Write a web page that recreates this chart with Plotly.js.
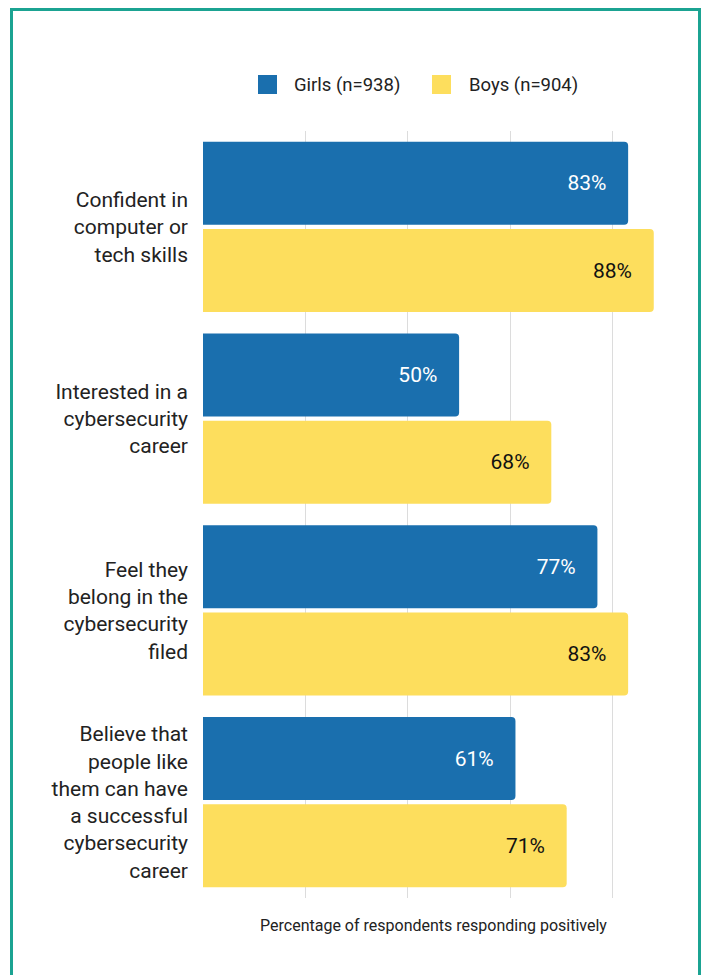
<!DOCTYPE html>
<html>
<head>
<meta charset="utf-8">
<script src="https://cdn.plot.ly/plotly-3.0.1.min.js"></script>
<style>
  html, body { margin: 0; padding: 0; background: #fff; }
  #wrap { position: relative; width: 702px; height: 975px; overflow: hidden; }
  #chart { width: 702px; height: 975px; }
  #frame { position: absolute; left: 10px; top: 8px; width: 685px; height: 990px;
           border: 3px solid #1ba392; border-bottom: none; pointer-events: none; }
</style>
</head>
<body>
<div id="wrap">
  <div id="chart"></div>
  <div id="frame"></div>
</div>
<script>
const categories = [
  "Confident in<br>computer or<br>tech skills",
  "Interested in a<br>cybersecurity<br>career",
  "Feel they<br>belong in the<br>cybersecurity<br>filed",
  "Believe that<br>people like<br>them can have<br>a successful<br>cybersecurity<br>career"
];
const seriesNames = ["Girls (n=938)", "Boys (n=904)"];
const girls = [83, 50, 77, 61];
const boys = [88, 68, 83, 71];
const colors = ["#1a6fae", "#fdde5d"];
const textColors = ["#ffffff", "#111111"];
const axisTitle = "Percentage of respondents responding positively";

const W = 702, H = 975;
const M = { l: 203, r: 38, t: 131, b: 77 };
const pw = W - M.l - M.r, ph = H - M.t - M.b;
const px = x => (x - M.l) / pw;
const py = y => 1 + (M.t - y) / ph;

const pad = "\u00a0\u00a0\u00a0\u200a";
function mk(vals, i) {
  return {
    type: "bar", orientation: "h", name: seriesNames[i],
    x: vals, y: categories,
    marker: { color: colors[i], cornerradius: 4 },
    text: vals.map(v => v + "%" + pad),
    textposition: "inside", insidetextanchor: "end",
    textfont: { family: "Roboto, sans-serif", size: 21, color: textColors[i] },
    hoverinfo: "none", showlegend: false, cliponaxis: false
  };
}

// manual legend (larger swatches than Plotly's built-in legend)
const legendSwatches = [[258, 277], [432, 451]];
const legendTextX = [292, 467];
const shapes = legendSwatches.map((s, i) => ({
  type: "rect", xref: "paper", yref: "paper",
  x0: px(s[0]), x1: px(s[1]), y0: py(94), y1: py(75),
  fillcolor: colors[i], line: { width: 0 }
}));
const annotations = seriesNames.map((n, i) => ({
  xref: "paper", yref: "paper", x: px(legendTextX[i]), y: py(85),
  xanchor: "left", yanchor: "middle", text: n, showarrow: false,
  font: { family: "Roboto, sans-serif", size: 18.5, color: "#222" }
}));

const layout = {
  width: W, height: H,
  margin: M,
  paper_bgcolor: "#fff", plot_bgcolor: "#fff",
  barmode: "group", bargap: 0.09, bargroupgap: 0.05,
  font: { family: "Roboto, sans-serif", color: "#222" },
  xaxis: {
    range: [0, 90], dtick: 20, showticklabels: false, ticks: "",
    showgrid: true, gridcolor: "#dcdcdc", gridwidth: 1,
    zeroline: false, showline: false, fixedrange: true,
    title: { text: axisTitle, font: { size: 16, color: "#222" }, standoff: 21 },
    automargin: false
  },
  yaxis: {
    autorange: "reversed", ticks: "", showline: false, showgrid: false,
    ticklabelstandoff: 14, automargin: false,
    tickfont: { family: "Roboto, sans-serif", size: 21, color: "#222" }
  },
  shapes: shapes,
  annotations: annotations,
  showlegend: false
};

Plotly.newPlot("chart", [mk(girls, 0), mk(boys, 1)], layout, { displayModeBar: false, staticPlot: true });
</script>
</body>
</html>
